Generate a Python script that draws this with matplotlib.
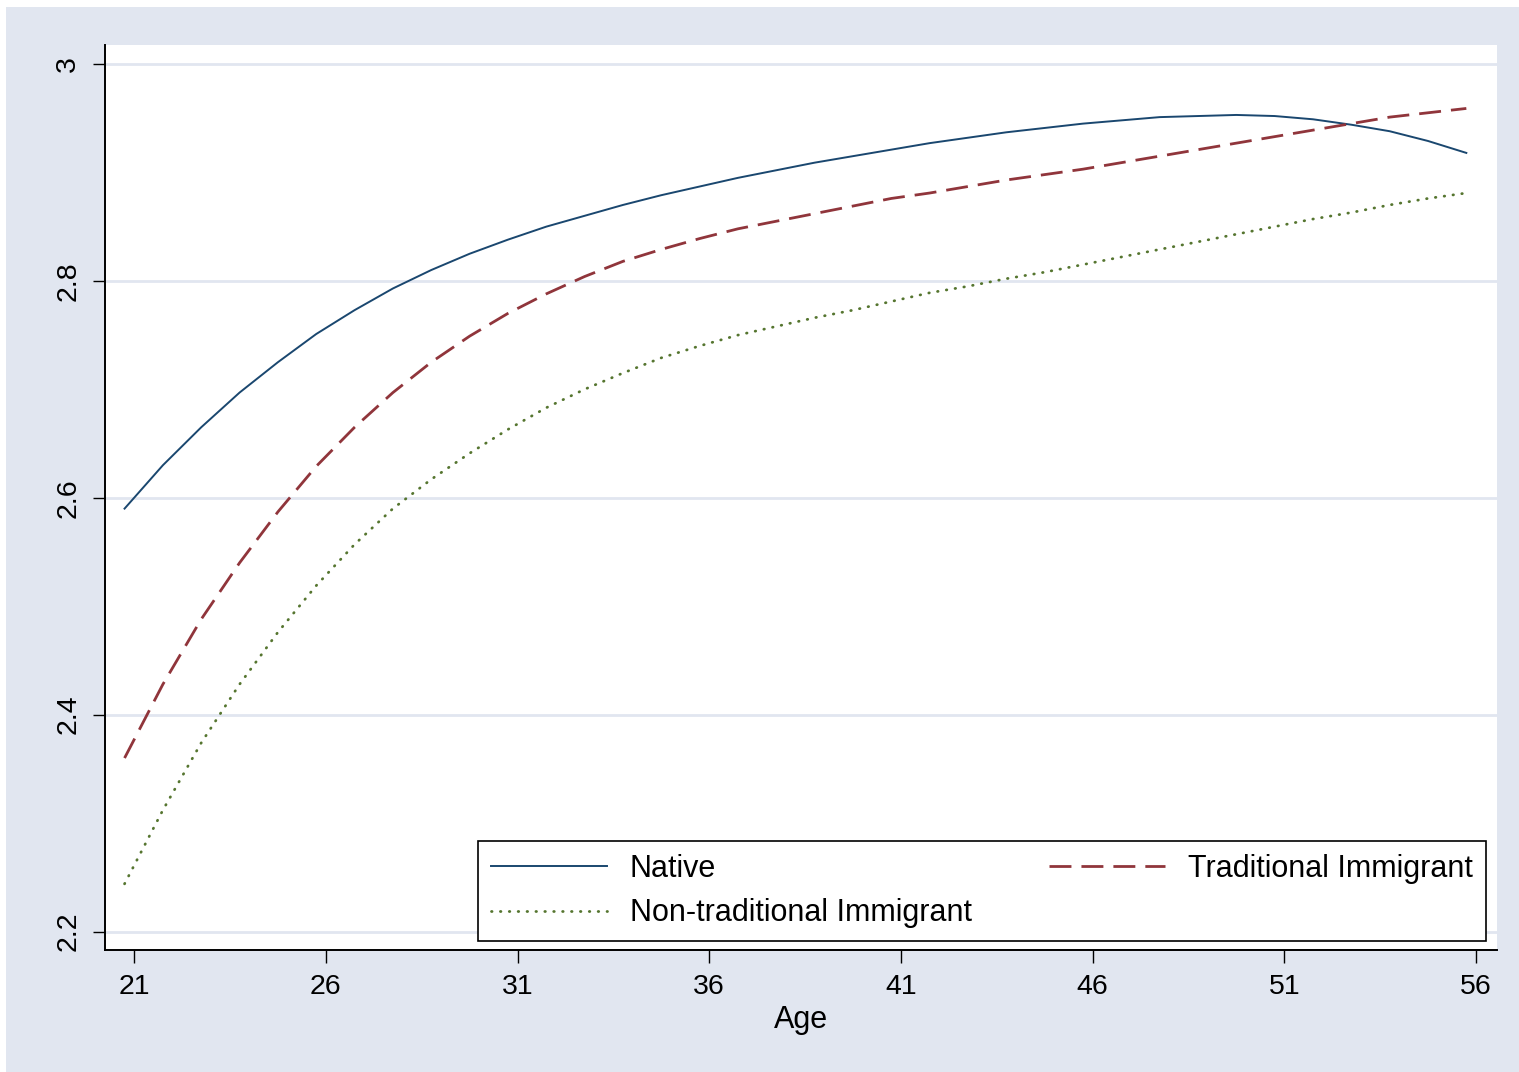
import matplotlib.pyplot as plt
from matplotlib.patches import Rectangle

plt.rcParams['font.family'] = ['Liberation Sans', 'DejaVu Sans']

# --- data ---
age = [20.75, 21.75, 22.75, 23.75, 24.75, 25.75, 26.75, 27.75, 28.75, 29.75,
       30.75, 31.75, 32.75, 33.75, 34.75, 35.75, 36.75, 37.75, 38.75, 39.75,
       40.75, 41.75, 42.75, 43.75, 44.75, 45.75, 46.75, 47.75, 48.75, 49.75,
       50.75, 51.75, 52.75, 53.75, 54.75, 55.75]

native = [2.590, 2.630, 2.665, 2.697, 2.725, 2.751, 2.773, 2.793, 2.810, 2.825,
          2.838, 2.850, 2.860, 2.870, 2.879, 2.887, 2.895, 2.902, 2.909, 2.915,
          2.921, 2.927, 2.932, 2.937, 2.941, 2.945, 2.948, 2.951, 2.952, 2.953,
          2.952, 2.949, 2.944, 2.938, 2.929, 2.918]

traditional = [2.360, 2.428, 2.488, 2.540, 2.587, 2.629, 2.665, 2.697, 2.725, 2.749,
               2.770, 2.788, 2.804, 2.818, 2.829, 2.839, 2.848, 2.855, 2.862, 2.869,
               2.876, 2.881, 2.887, 2.893, 2.898, 2.903, 2.909, 2.915, 2.921, 2.927,
               2.933, 2.939, 2.945, 2.951, 2.955, 2.959]

nontraditional = [2.244, 2.312, 2.374, 2.428, 2.476, 2.519, 2.557, 2.590, 2.617, 2.641,
                  2.663, 2.683, 2.700, 2.715, 2.729, 2.740, 2.750, 2.758, 2.766, 2.773,
                  2.781, 2.789, 2.795, 2.802, 2.808, 2.815, 2.822, 2.829, 2.836, 2.843,
                  2.850, 2.857, 2.863, 2.870, 2.876, 2.881]

xticks = [21, 26, 31, 36, 41, 46, 51, 56]
yticks = [2.2, 2.4, 2.6, 2.8, 3.0]
ytick_labels = ['2.2', '2.4', '2.6', '2.8', '3']

bg = '#E1E6F0'

fig = plt.figure(figsize=(15.19, 10.72), dpi=100, facecolor='white')
# graph region (light bluish gray), offset slightly like the screenshot
fig.patches.append(Rectangle((6 / 1519, 0), 1, 1 - 7 / 1072, transform=fig.transFigure,
                             facecolor=bg, edgecolor='none', zorder=-10))

ax = fig.add_axes([105 / 1519, 1 - 950 / 1072, 1392 / 1519, 905 / 1072])
ax.set_facecolor('white')

ax.plot(age, native, color='#1a476f', lw=1.4, label='Native')
ax.plot(age, nontraditional, color='#55752f', lw=2.0, dashes=(0.2, 3.0),
        dash_capstyle='round', label='Non-traditional Immigrant')
ax.plot(age, traditional, color='#90353b', lw=2.0, dashes=(7.9, 3.6),
        label='Traditional Immigrant')

ax.set_xlim(20.24, 56.55)
ax.set_ylim(2.183, 3.0175)
ax.set_xticks(xticks)
ax.set_yticks(yticks)
ax.set_yticklabels(ytick_labels, rotation=90, va='center')
ax.grid(axis='y', color=bg, lw=2)
ax.set_axisbelow(True)

for s in ['top', 'right']:
    ax.spines[s].set_visible(False)
for s in ['left', 'bottom']:
    ax.spines[s].set_linewidth(1.4)
ax.tick_params(length=9, width=1.0, labelsize=20.5, pad=8)
ax.set_xlabel('Age', fontsize=22, labelpad=4)

leg = ax.legend(ncol=2, loc='lower left', mode='expand',
                bbox_to_anchor=(0.268, 0.0099, 0.724, 0.1094),
                fontsize=22, handlelength=3.8, handletextpad=0.75,
                borderpad=0.42, labelspacing=0.47, fancybox=False,
                framealpha=1, edgecolor='black', borderaxespad=0)
leg.get_frame().set_linewidth(1.2)

fig.savefig('out.png', dpi=100, facecolor=fig.get_facecolor())
